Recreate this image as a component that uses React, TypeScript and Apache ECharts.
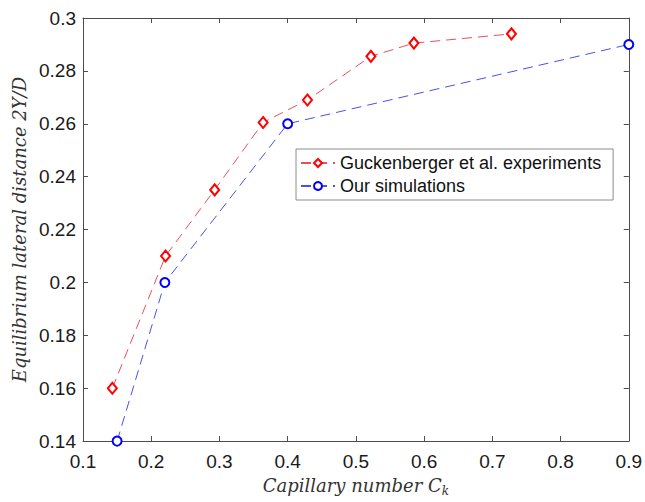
import React, { useEffect, useRef } from "react";
import * as echarts from "echarts";

const expX = [0.143, 0.221, 0.293, 0.364, 0.429, 0.522, 0.585, 0.728];
const expY = [0.16, 0.21, 0.235, 0.2605, 0.269, 0.2855, 0.2905, 0.294];
const simX = [0.15, 0.22, 0.4, 0.9];
const simY = [0.14, 0.2, 0.26, 0.29];
const expName = "Guckenberger et al. experiments";
const simName = "Our simulations";

const axisColor = "#4d4d4d";
const tickFont = "Liberation Sans";
const titleFont = "DejaVu Serif";

export default function App() {
  const ref = useRef<HTMLDivElement>(null);
  useEffect(() => {
    if (!ref.current) return;
    const chart = echarts.init(ref.current, null, { renderer: "svg" });
    const xCommon = {
      type: "value" as const,
      min: 0.1,
      max: 0.9,
      interval: 0.1,
      splitLine: { show: false },
      axisLine: { show: true, onZero: false, lineStyle: { color: axisColor, width: 1 } },
      axisTick: { show: true, inside: true, length: 5, lineStyle: { color: axisColor } },
    };
    const yCommon = {
      type: "value" as const,
      min: 0.14,
      max: 0.3,
      interval: 0.02,
      splitLine: { show: false },
      axisLine: { show: true, onZero: false, lineStyle: { color: axisColor, width: 1 } },
      axisTick: { show: true, inside: true, length: 5, lineStyle: { color: axisColor } },
    };
    chart.setOption({
      animation: false,
      backgroundColor: "#ffffff",
      grid: { left: 83, top: 18, right: 14, bottom: 54, containLabel: false },
      xAxis: [
        {
          ...xCommon,
          position: "bottom",
          axisLabel: {
            color: "#1a1a1a",
            fontFamily: tickFont,
            fontSize: 19,
            margin: 11,
            formatter: (v: number) => String(Number(v.toFixed(2))),
          },
          name: "{n|Capillary number C}{s|k}",
          nameLocation: "middle",
          nameGap: 28,
          nameTextStyle: {
            rich: {
              n: {
                fontFamily: titleFont,
                fontStyle: "italic",
                fontSize: 18,
                lineHeight: 24,
                verticalAlign: "middle",
                color: "#333",
              },
              s: {
                fontFamily: titleFont,
                fontStyle: "italic",
                fontSize: 12,
                lineHeight: 12,
                color: "#333",
                verticalAlign: "bottom",
              },
            },
          },
        },
        { ...xCommon, position: "top", axisLabel: { show: false } },
      ],
      yAxis: [
        {
          ...yCommon,
          position: "left",
          axisLabel: {
            color: "#1a1a1a",
            fontFamily: tickFont,
            fontSize: 19,
            margin: 7,
            formatter: (v: number) => String(Number(v.toFixed(2))),
          },
          name: "Equilibrium lateral distance 2Y/D",
          nameLocation: "middle",
          nameGap: 38,
          nameTextStyle: {
            fontFamily: titleFont,
            fontStyle: "italic",
            fontSize: 18,
            color: "#333",
          },
        },
        { ...yCommon, position: "right", axisLabel: { show: false } },
      ],
      legend: {
        show: true,
        orient: "vertical",
        left: 296,
        top: 149,
        backgroundColor: "#ffffff",
        borderColor: "#8c8c8c",
        borderWidth: 1,
        borderRadius: 0,
        padding: [5, 12, 5, 4],
        itemWidth: 34,
        itemHeight: 10,
        itemGap: 5,
        textStyle: { fontFamily: tickFont, fontSize: 18, color: "#111" },
        data: [expName, simName],
      },
      series: [
        {
          name: expName,
          type: "line",
          xAxisIndex: 0,
          yAxisIndex: 0,
          data: expX.map((x, i) => [x, expY[i]]),
          symbol: "emptyDiamond",
          symbolSize: [9, 11],
          itemStyle: { color: "#ff0000", borderWidth: 1.5 },
          lineStyle: { color: "#e8505a", width: 1, type: [10, 6] },
        },
        {
          name: simName,
          type: "line",
          xAxisIndex: 0,
          yAxisIndex: 0,
          data: simX.map((x, i) => [x, simY[i]]),
          symbol: "emptyCircle",
          symbolSize: 9,
          itemStyle: { color: "#0000ff", borderWidth: 1.5 },
          lineStyle: { color: "#4a50e8", width: 1, type: [10, 6] },
        },
      ],
    });
    return () => chart.dispose();
  }, []);
  return (
    <div
      ref={ref}
      style={{ position: "fixed", left: 0, top: 0, width: 645, height: 502 }}
    />
  );
}
